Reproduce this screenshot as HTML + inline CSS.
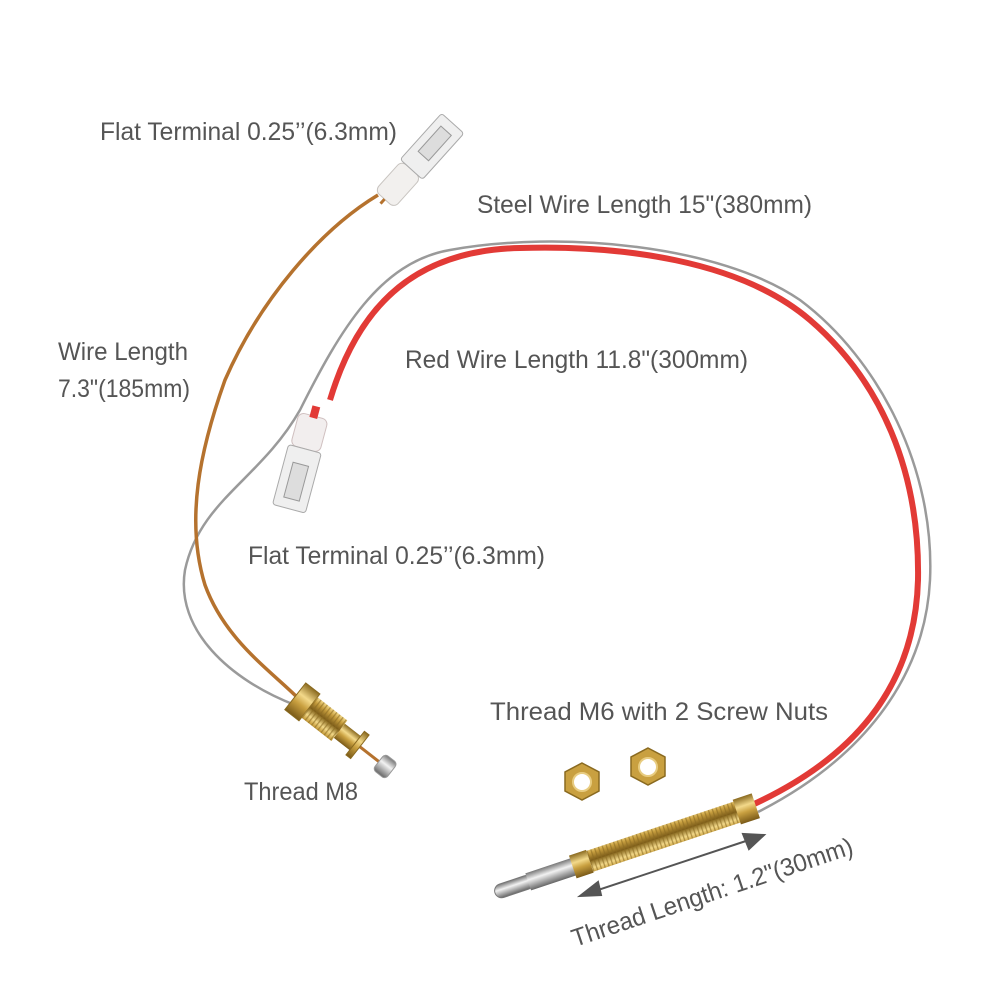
<!DOCTYPE html>
<html><head><meta charset="utf-8"><style>
html,body{margin:0;padding:0;background:#fff}
svg{display:block}
text{font-family:"Liberation Sans",sans-serif;fill:#555;font-size:25px}
</style></head><body>
<svg width="1000" height="1000" viewBox="0 0 1000 1000" xmlns="http://www.w3.org/2000/svg">
<defs>
<linearGradient id="brass" x1="0" y1="0" x2="0" y2="1">
<stop offset="0" stop-color="#8a6a20"/><stop offset="0.35" stop-color="#f3d98a"/><stop offset="0.6" stop-color="#c9a040"/><stop offset="1" stop-color="#7a5a18"/></linearGradient>
<linearGradient id="steel" x1="0" y1="0" x2="0" y2="1">
<stop offset="0" stop-color="#777"/><stop offset="0.4" stop-color="#f2f2f2"/><stop offset="1" stop-color="#666"/></linearGradient>
<pattern id="thr" width="4" height="20" patternUnits="userSpaceOnUse"><rect width="4" height="20" fill="url(#brass)"/><rect width="1.3" height="20" fill="#8a6a22" opacity="0.6"/></pattern>
</defs>

<path d="M758,812 C860,760 925,680 930,580 C935,470 880,360 800,300 C720,245 560,230 450,250 C380,262 340,330 300,410 C260,480 200,500 185,570 C175,630 230,680 295,705" fill="none" stroke="#9a9a9a" stroke-width="2.5"/>
<path d="M752,805 C850,760 915,690 918,580 C920,470 880,380 810,320 C740,260 620,245 520,248 C420,250 360,300 330,400" fill="none" stroke="#e23a36" stroke-width="6"/>
<path d="M378,195 C320,230 260,300 225,380 C200,450 185,520 205,585 C225,640 270,670 300,700" fill="none" stroke="#b5722e" stroke-width="3.5"/>

<!-- top terminal -->
<g transform="translate(418,162) rotate(-48)">
<rect x="-50" y="-13" width="40" height="26" rx="6" fill="#f2f0ee" stroke="#c8c4c0"/>
<rect x="-10" y="-15" width="62" height="30" rx="3" fill="#efefef" stroke="#aaa"/>
<rect x="8" y="-7" width="34" height="14" fill="#ddd" stroke="#999"/>
<line x1="-56" y1="0" x2="-50" y2="0" stroke="#b5722e" stroke-width="3"/>
</g>
<!-- bottom terminal -->
<g transform="translate(306,445) rotate(105)">
<rect x="-30" y="-15" width="34" height="30" rx="6" fill="#f2eeee" stroke="#d0c0c0"/>
<rect x="-40" y="-4" width="12" height="8" fill="#e23a36"/>
<rect x="4" y="-17" width="62" height="34" rx="3" fill="#efefef" stroke="#aaa"/>
<rect x="20" y="-8" width="36" height="16" fill="#ddd" stroke="#999"/>
</g>

<!-- M8 fitting -->
<g transform="translate(300,700) rotate(38)">
<line x1="0" y1="0" x2="115" y2="0" stroke="#b5722e" stroke-width="3"/>
<rect x="-6" y="-17" width="18" height="34" fill="url(#brass)" stroke="#8a6a20"/>
<rect x="12" y="-13" width="38" height="26" fill="url(#thr)"/>
<rect x="50" y="-9" width="22" height="18" fill="url(#brass)"/>
<rect x="70" y="-15" width="6" height="30" fill="url(#brass)" stroke="#8a6a20"/>
<rect x="100" y="-10" width="16" height="20" rx="4" fill="url(#steel)" stroke="#999"/>
</g>

<g fill="#c9a040" stroke="#8a6a20" stroke-width="1.5">
<polygon points="582,763 599,772 599,791 582,800 565,791 565,772"/>
<polygon points="648,748 665,757 665,776 648,785 631,776 631,757"/>
</g>
<circle cx="582" cy="782" r="9" fill="#fff" stroke="#e8cc80" stroke-width="2"/>
<circle cx="648" cy="767" r="9" fill="#fff" stroke="#e8cc80" stroke-width="2"/>

<g transform="translate(495,893) rotate(-18.5)">
<rect x="0" y="-7" width="40" height="14" rx="7" fill="url(#steel)" stroke="#777"/>
<rect x="35" y="-9" width="50" height="18" fill="url(#steel)"/>
<rect x="82" y="-12" width="18" height="24" fill="url(#brass)"/>
<rect x="100" y="-11" width="158" height="22" fill="url(#thr)"/>
<rect x="255" y="-13" width="20" height="26" fill="url(#brass)"/>
</g>
<g stroke="#555" stroke-width="2" fill="#555">
<line x1="592" y1="892" x2="752" y2="839"/>
<polygon points="580,896 598,882 601,895"/>
<polygon points="764,835 743,834 749,849"/>
</g>

<text x="100" y="140" textLength="297" lengthAdjust="spacingAndGlyphs">Flat  Terminal  0.25’’(6.3mm)</text>
<text x="477" y="213" textLength="335" lengthAdjust="spacingAndGlyphs">Steel  Wire  Length  15"(380mm)</text>
<text x="58" y="360" textLength="130" lengthAdjust="spacingAndGlyphs">Wire  Length</text>
<text x="58" y="397" textLength="132" lengthAdjust="spacingAndGlyphs">7.3"(185mm)</text>
<text x="405" y="368" textLength="343" lengthAdjust="spacingAndGlyphs">Red  Wire  Length  11.8"(300mm)</text>
<text x="248" y="564" textLength="297" lengthAdjust="spacingAndGlyphs">Flat  Terminal  0.25’’(6.3mm)</text>
<text x="490" y="720" textLength="338" lengthAdjust="spacingAndGlyphs">Thread  M6  with  2  Screw  Nuts</text>
<text x="244" y="800" textLength="114" lengthAdjust="spacingAndGlyphs">Thread  M8</text>
<text transform="translate(575,947) rotate(-18.5)" x="0" y="0" textLength="295" lengthAdjust="spacingAndGlyphs">Thread  Length:  1.2"(30mm)</text>
</svg>
</body></html>
